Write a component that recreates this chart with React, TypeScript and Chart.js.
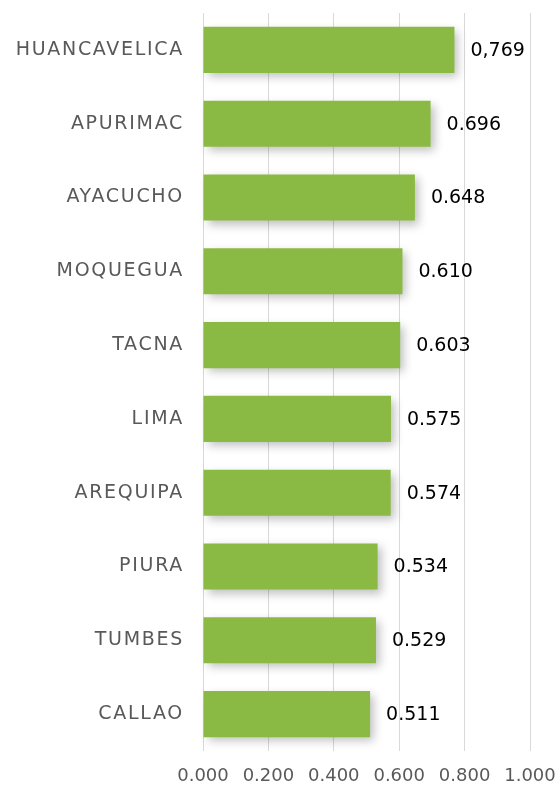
import React, { useEffect, useRef } from "react";
import { Chart, registerables } from "chart.js";

Chart.register(...registerables);

const categories = [
  "HUANCAVELICA",
  "APURIMAC",
  "AYACUCHO",
  "MOQUEGUA",
  "TACNA",
  "LIMA",
  "AREQUIPA",
  "PIURA",
  "TUMBES",
  "CALLAO",
];
const values = [0.769, 0.696, 0.648, 0.61, 0.603, 0.575, 0.574, 0.534, 0.529, 0.511];
const valueLabels = ["0,769", "0.696", "0.648", "0.610", "0.603", "0.575", "0.574", "0.534", "0.529", "0.511"];
const xTicks = [0, 0.2, 0.4, 0.6, 0.8, 1.0];

const FONT = "'DejaVu Sans', sans-serif";

const shadowPlugin = {
  id: "barShadow",
  beforeDatasetDraw(chart: any) {
    const ctx = chart.ctx;
    ctx.save();
    ctx.shadowColor = "rgba(0,0,0,0.25)";
    ctx.shadowBlur = 9;
    ctx.shadowOffsetX = 4;
    ctx.shadowOffsetY = 4;
  },
  afterDatasetDraw(chart: any) {
    chart.ctx.restore();
  },
};

const valueLabelPlugin = {
  id: "valueLabels",
  afterDatasetsDraw(chart: any) {
    const ctx = chart.ctx;
    const meta = chart.getDatasetMeta(0);
    ctx.save();
    ctx.font = `19px ${FONT}`;
    ctx.fillStyle = "#000000";
    ctx.textAlign = "left";
    ctx.textBaseline = "middle";
    meta.data.forEach((bar: any, i: number) => {
      ctx.fillText(valueLabels[i], bar.x + 16, bar.y + 1);
    });
    ctx.restore();
  },
};

export default function App() {
  const canvasRef = useRef<HTMLCanvasElement | null>(null);

  useEffect(() => {
    if (!canvasRef.current) return;
    const chart = new Chart(canvasRef.current, {
      type: "bar",
      data: {
        labels: categories,
        datasets: [
          {
            data: values,
            backgroundColor: "#8BBA44",
            borderWidth: 0,
            barPercentage: 0.625,
            categoryPercentage: 1,
            clip: false as any,
          },
        ],
      },
      options: {
        indexAxis: "y",
        animation: false,
        responsive: false,
        maintainAspectRatio: false,
        layout: { padding: { top: 13, right: 30, left: 0, bottom: 0 } },
        plugins: {
          legend: { display: false },
          tooltip: { enabled: false },
        },
        scales: {
          x: {
            min: 0,
            max: 1,
            afterBuildTicks(scale: any) {
              scale.ticks = xTicks.map((v) => ({ value: v }));
            },
            afterFit(scale: any) {
              scale.height = 39;
              scale.paddingLeft = 0;
              scale.paddingRight = 0;
              scale.paddingTop = 0;
              scale.paddingBottom = 0;
            },
            ticks: {
              padding: 15,
              color: "#595959",
              font: { family: FONT, size: 18 },
              callback: (v: any) => Number(v).toFixed(3),
            },
            grid: {
              color: "#d9d9d9",
              lineWidth: 1,
              drawTicks: false,
            },
            border: { display: false },
          },
          y: {
            afterFit(scale: any) {
              scale.width = 203;
              scale.paddingTop = 0;
              scale.paddingBottom = 0;
              scale.paddingLeft = 0;
              scale.paddingRight = 0;
            },
            afterUpdate(scale: any) {
              if (!scale._lsPatched) {
                const orig = scale.drawLabels.bind(scale);
                scale.drawLabels = (area: any) => {
                  const ctx = scale.ctx;
                  ctx.save();
                  (ctx as any).letterSpacing = "1.7px";
                  orig(area);
                  ctx.restore();
                };
                scale._lsPatched = true;
              }
            },
            ticks: {
              padding: 19,
              color: "#595959",
              font: { family: FONT, size: 19 },
            },
            grid: { display: false, drawTicks: false },
            border: { display: false },
          },
        },
      },
      plugins: [shadowPlugin, valueLabelPlugin],
    });
    return () => chart.destroy();
  }, []);

  return (
    <div style={{ position: "fixed", left: 0, top: 0, width: 560, height: 790, background: "#ffffff" }}>
      <canvas ref={canvasRef} width={560} height={790} style={{ width: 560, height: 790, display: "block" }} />
    </div>
  );
}
